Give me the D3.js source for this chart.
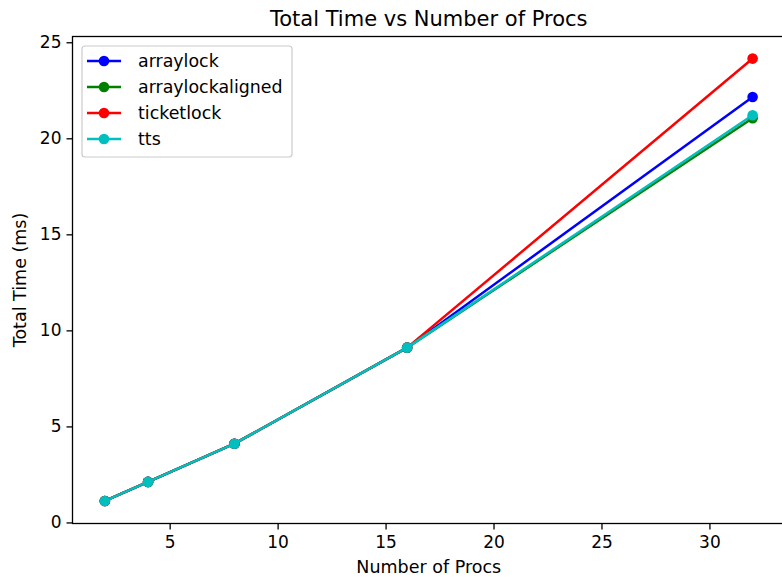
<!DOCTYPE html>
<html><head><meta charset="utf-8">
<script src="https://cdn.jsdelivr.net/npm/d3@7"></script>
<style>body{margin:0;background:#fff;} svg{display:block;} text{font-family:"DejaVu Sans",sans-serif;}</style>
</head><body>
<svg id="c" width="782" height="577"></svg>
<script>
const procs = [2, 4, 8, 16, 32];
const arraylock = [1.12, 2.11, 4.1, 9.1, 22.15];
const arraylockaligned = [1.12, 2.11, 4.1, 9.1, 21.05];
const ticketlock = [1.12, 2.11, 4.1, 9.1, 24.15];
const tts = [1.12, 2.11, 4.1, 9.1, 21.2];
const seriesNames = ["arraylock", "arraylockaligned", "ticketlock", "tts"];
const seriesColors = ["#0000ff", "#008000", "#ff0000", "#00bfbf"];
const xTicks = [5, 10, 15, 20, 25, 30];
const yTicks = [0, 5, 10, 15, 20, 25];

const series = [arraylock, arraylockaligned, ticketlock, tts];
const svg = d3.select("#c");
const L = 72.5, R = 785, T = 36.5, B = 523.5;
const x = d3.scaleLinear().domain([0.5, 33.5]).range([L, R]);
const y = d3.scaleLinear().domain([-0.055, 25.3]).range([B, T]);

// lines
const line = d3.line().x((d, i) => x(procs[i])).y(d => y(d));
series.forEach((s, k) => {
  const g = svg.append("g");
  g.append("path").datum(s).attr("d", line).attr("fill", "none")
    .attr("stroke", seriesColors[k]).attr("stroke-width", 2.5).attr("stroke-linejoin", "round").attr("stroke-linecap", "square");
  g.selectAll("circle").data(s).enter().append("circle")
    .attr("cx", (d, i) => x(procs[i])).attr("cy", d => y(d)).attr("r", 5.3).attr("fill", seriesColors[k]);
});

// axes
const xAxis = d3.axisBottom(x).tickValues(xTicks).tickSize(6).tickPadding(6).tickFormat(d3.format("d"));
const yAxis = d3.axisLeft(y).tickValues(yTicks).tickSize(6).tickPadding(5).tickFormat(d3.format("d"));
const gx = svg.append("g").attr("transform", `translate(0,${B})`).call(xAxis);
const gy = svg.append("g").attr("transform", `translate(${L},0)`).call(yAxis);
[gx, gy].forEach(g => {
  g.select(".domain").remove();
  g.selectAll(".tick line").attr("stroke", "#000").attr("stroke-width", 1.3);
  g.selectAll(".tick text").attr("font-size", 17).attr("fill", "#000").attr("font-family", "DejaVu Sans");
});
// spines
svg.append("rect").attr("x", L).attr("y", T).attr("width", R - L).attr("height", B - T)
  .attr("fill", "none").attr("stroke", "#000").attr("stroke-width", 1.3);

// title & labels
svg.append("text").attr("x", (L + R) / 2).attr("y", 26).attr("text-anchor", "middle")
  .attr("font-size", 21).text("Total Time vs Number of Procs");
svg.append("text").attr("x", (L + R) / 2).attr("y", 573).attr("text-anchor", "middle")
  .attr("font-size", 17.5).text("Number of Procs");
svg.append("text").attr("transform", `translate(26,${(T + B) / 2}) rotate(-90)`).attr("text-anchor", "middle")
  .attr("font-size", 17.5).text("Total Time (ms)");

// legend
const lg = svg.append("g");
lg.append("rect").attr("x", 82).attr("y", 46).attr("width", 210).attr("height", 111).attr("rx", 3)
  .attr("fill", "#fff").attr("fill-opacity", 0.8).attr("stroke", "#cccccc").attr("stroke-width", 1.2);
seriesNames.forEach((n, k) => {
  const yy = 61 + k * 26;
  lg.append("line").attr("x1", 87).attr("x2", 121).attr("y1", yy).attr("y2", yy)
    .attr("stroke", seriesColors[k]).attr("stroke-width", 2.5);
  lg.append("circle").attr("cx", 104).attr("cy", yy).attr("r", 5.3).attr("fill", seriesColors[k]);
  lg.append("text").attr("x", 138).attr("y", yy + 6).attr("font-size", 17.4).text(n);
});
</script>
</body></html>
